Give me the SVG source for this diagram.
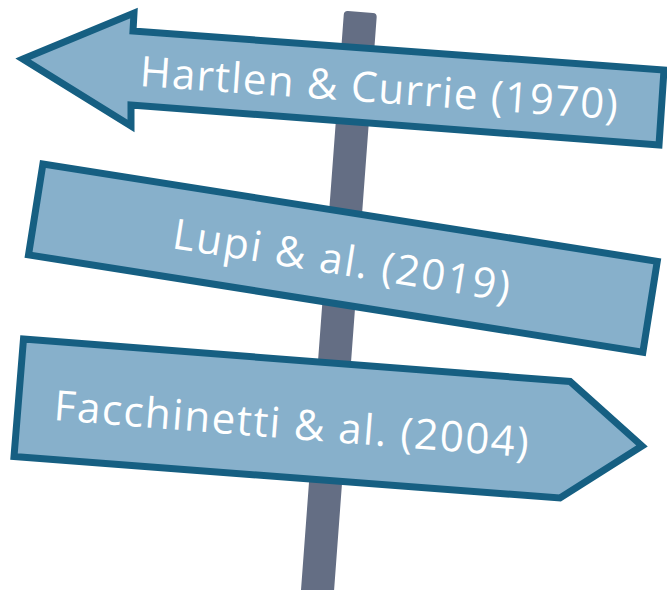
<svg xmlns="http://www.w3.org/2000/svg" width="667" height="590" viewBox="0 0 667 590">
  <style>
    .sign { fill: #87b0cb; stroke: #165f82; stroke-width: 7; stroke-linejoin: miter; }
    .post { fill: #646e84; }
    .label { font-family: "Open Sans", "Noto Sans", "DejaVu Sans", sans-serif; font-size: 42px; fill: #ffffff; }
  </style>
  <rect width="667" height="590" fill="#ffffff"/>
  <g id="post">
    <rect class="post" transform="translate(360.5,12) rotate(4.25)" x="-16.5" y="0" width="33" height="620" rx="4"/>
  </g>
  <g id="sign-hartlen">
    <polygon class="sign" points="23,59 134,13 133,31 664,70 659,145 131,105 131,126"/>
    <text class="label" x="139" y="86" transform="rotate(4 139 86)" textLength="479" lengthAdjust="spacing">Hartlen &amp; Currie (1970)</text>
  </g>
  <g id="sign-lupi">
    <rect class="sign" transform="translate(40,160) rotate(9)" x="3.5" y="3.5" width="622" height="92"/>
    <text class="label" x="171" y="248" transform="rotate(9 171 248)" textLength="341" lengthAdjust="spacing">Lupi &amp; al. (2019)</text>
  </g>
  <g id="sign-facchinetti">
    <polygon class="sign" points="23.5,339 570,381.5 642,446 560,498 14,456.5"/>
    <text class="label" x="53" y="420" transform="rotate(4.5 53 420)" textLength="476" lengthAdjust="spacing">Facchinetti &amp; al. (2004)</text>
  </g>
</svg>
